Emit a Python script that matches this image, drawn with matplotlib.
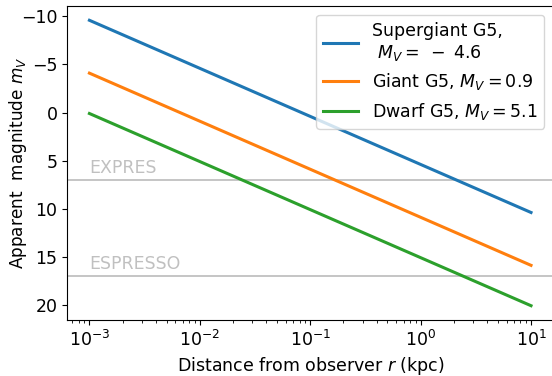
import matplotlib
matplotlib.use('Agg')
import matplotlib.pyplot as plt

# distances (kpc) and apparent magnitudes at the ends of each line
r_kpc = [1e-3, 1e1]
m_supergiant = [-9.6, 10.4]
m_giant = [-4.1, 15.9]
m_dwarf = [0.1, 20.1]

labels = ['Supergiant G5,\n $M_V =\\;-\\;4.6$', 'Giant G5, $M_V = 0.9$', 'Dwarf G5, $M_V = 5.1$']

# instrument limits
limit_names = ['EXPRES', 'ESPRESSO']
limit_mags = [7, 17]

plt.rcParams['font.size'] = 12.5

fig, ax = plt.subplots(figsize=(5.52, 3.76), dpi=100)

for m, lab in zip([m_supergiant, m_giant, m_dwarf], labels):
    ax.plot(r_kpc, m, lw=2.2, label=lab)

for name, mag in zip(limit_names, limit_mags):
    ax.axhline(mag, color='#c0c0c0', lw=1.3, zorder=0)
    ax.text(1e-3, mag - 0.3, name, color='#c0c0c0', va='bottom', ha='left')

ax.set_xscale('log')
ax.invert_yaxis()
ax.set_xlabel('Distance from observer $r$ (kpc)')
ax.set_ylabel('Apparent  magnitude $m_V$', fontsize=12.2)
ax.yaxis.set_label_coords(-0.078, 0.5)
ax.legend(loc='upper right')

# the right spine sits just past the picture's edge, as in the original crop
fig.subplots_adjust(left=0.122, right=1.002, top=0.984, bottom=0.149)
fig.savefig('out.png')
